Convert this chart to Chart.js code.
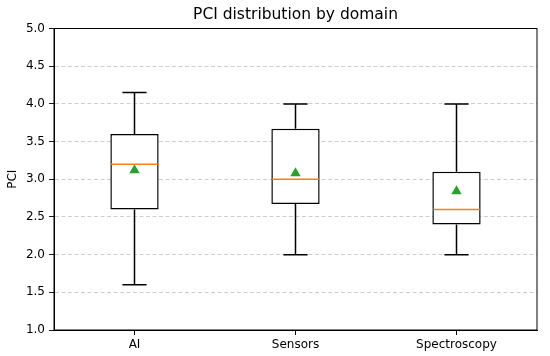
<!DOCTYPE html>
<html>
<head>
<meta charset="utf-8">
<script src="https://cdn.jsdelivr.net/npm/chart.js@4/dist/chart.umd.min.js"></script>
<style>
  html, body { margin: 0; padding: 0; background: #fff; }
  #wrap { width: 550px; height: 356px; }
</style>
</head>
<body>
<div id="wrap"><canvas id="boxChart" width="550" height="356"></canvas></div>
<script>
// ======================================
// DATA
// ======================================
const categories = ["AI", "Sensors", "Spectroscopy"];
const whiskerLow = [1.6, 2.0, 2.0];
const q1 = [2.6, 2.67, 2.4];
const medians = [3.2, 3.0, 2.6];
const q3 = [3.6, 3.67, 3.1];
const whiskerHigh = [4.15, 4.0, 4.0];
const means = [3.12, 3.08, 2.84];
const yMin = 1.0, yMax = 5.0, yStep = 0.5;
const chartTitle = "PCI distribution by domain";

const FONT = "'DejaVu Sans', sans-serif";

// ======================================
// BOX PLOT PIECES (whiskers, caps, medians, frame, title)
// ======================================
const boxParts = {
    id: "boxParts",
    afterDatasetsDraw(chart) {
        const ctx = chart.ctx;
        const y = chart.scales.y;
        const meta = chart.getDatasetMeta(1);
        ctx.save();
        ctx.setLineDash([]);
        meta.data.forEach((bar, i) => {
            const cx = bar.x;
            const half = bar.width / 2;
            const capHalf = half / 2;
            ctx.lineWidth = 1.5;
            ctx.strokeStyle = "#000";
            ctx.beginPath();
            // lower whisker + cap
            ctx.moveTo(cx, y.getPixelForValue(q1[i]));
            ctx.lineTo(cx, y.getPixelForValue(whiskerLow[i]));
            ctx.moveTo(cx - capHalf, y.getPixelForValue(whiskerLow[i]));
            ctx.lineTo(cx + capHalf, y.getPixelForValue(whiskerLow[i]));
            // upper whisker + cap
            ctx.moveTo(cx, y.getPixelForValue(q3[i]));
            ctx.lineTo(cx, y.getPixelForValue(whiskerHigh[i]));
            ctx.moveTo(cx - capHalf, y.getPixelForValue(whiskerHigh[i]));
            ctx.lineTo(cx + capHalf, y.getPixelForValue(whiskerHigh[i]));
            ctx.stroke();
            // median
            ctx.strokeStyle = "#ff7f0e";
            ctx.beginPath();
            const my = y.getPixelForValue(medians[i]);
            ctx.moveTo(cx - half + 0.8, my);
            ctx.lineTo(cx + half - 0.8, my);
            ctx.stroke();
        });
        ctx.restore();
    },
    afterDraw(chart) {
        const a = chart.chartArea;
        const ctx = chart.ctx;
        ctx.save();
        ctx.setLineDash([]);
        ctx.strokeStyle = "#000";
        ctx.lineWidth = 1;
        ctx.strokeRect(a.left, a.top, a.right - a.left, a.bottom - a.top);
        // title centred over the plot area
        ctx.fillStyle = "#000";
        ctx.font = "15.5px " + FONT;
        ctx.textAlign = "center";
        ctx.textBaseline = "middle";
        ctx.fillText(chartTitle, (a.left + a.right) / 2, 14.5);
        ctx.restore();
    }
};

// ======================================
// CHART
// ======================================
new Chart(document.getElementById("boxChart"), {
    data: {
        labels: categories,
        datasets: [
            {
                type: "line",
                label: "Mean",
                data: means,
                showLine: false,
                pointStyle: "triangle",
                pointRadius: 6,
                pointBackgroundColor: "#2ca02c",
                pointBorderColor: "#2ca02c",
                pointBorderWidth: 0,
                order: 0
            },
            {
                type: "bar",
                label: "IQR",
                data: categories.map((c, i) => [q1[i], q3[i]]),
                backgroundColor: "#fff",
                borderColor: "#000",
                borderWidth: 1.5,
                borderSkipped: false,
                categoryPercentage: 1,
                barPercentage: 0.3,
                order: 1
            }
        ]
    },
    options: {
        responsive: false,
        animation: false,
        layout: { padding: { left: 0, right: 13, top: 28.5, bottom: 0 } },
        plugins: {
            legend: { display: false },
            tooltip: { enabled: false },
            title: { display: false }
        },
        scales: {
            x: {
                type: "category",
                offset: true,
                grid: { display: true, drawOnChartArea: false, offset: false, tickLength: 5, tickColor: "#000" },
                border: { color: "#000", width: 1 },
                ticks: { color: "#000", font: { family: FONT, size: 12 }, padding: 3 },
                afterFit: (s) => { s.height = 26; }
            },
            y: {
                min: yMin,
                max: yMax,
                grid: {
                    color: "#c8c8c8",
                    lineWidth: 0.9,
                    tickLength: 5,
                    tickColor: "#000",
                    tickBorderDash: []
                },
                border: { color: "#000", width: 1, dash: [4, 2.5] },
                ticks: {
                    stepSize: yStep,
                    color: "#000",
                    font: { family: FONT, size: 12 },
                    padding: 4,
                    callback: (v) => v.toFixed(1)
                },
                title: {
                    display: true,
                    text: "PCI",
                    color: "#000",
                    font: { family: FONT, size: 12 },
                    padding: { top: 6, bottom: 0 }
                },
                afterFit: (s) => { s.width = 54; }
            }
        }
    },
    plugins: [boxParts]
});
</script>
</body>
</html>
